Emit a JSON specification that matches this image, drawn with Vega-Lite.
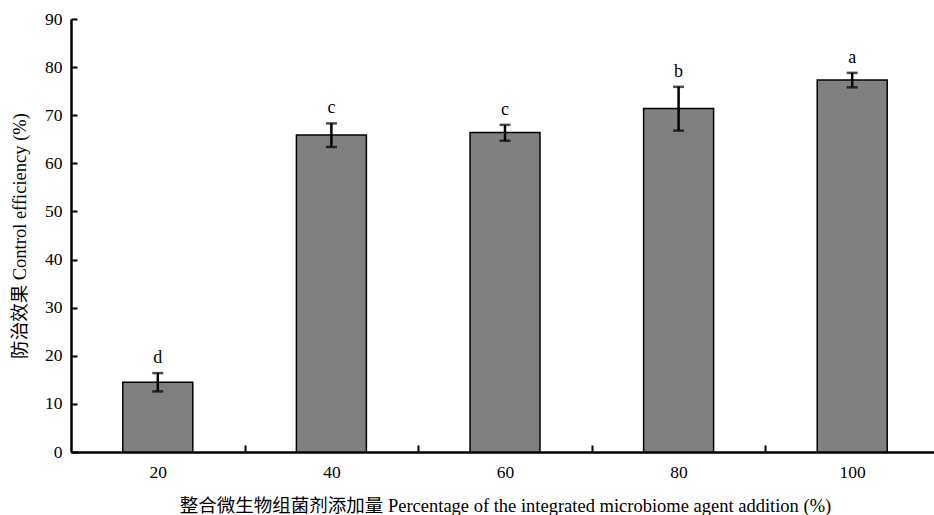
{
  "$schema": "https://vega.github.io/schema/vega-lite/v6.json",
  "width": 868,
  "height": 433,
  "autosize": "none",
  "padding": {"left": 71, "top": 19, "right": 0, "bottom": 63},
  "background": "white",
  "config": {
    "view": {"stroke": null},
    "font": "'Liberation Serif', 'Noto Sans CJK SC'",
    "axis": {
      "labelFont": "'Liberation Serif'",
      "labelFontSize": 17.5,
      "labelColor": "black",
      "titleFont": "'Liberation Serif', 'Noto Sans CJK SC'",
      "titleFontSize": 18.5,
      "titleFontWeight": "normal",
      "titleColor": "black",
      "domainColor": "black",
      "domainWidth": 2.5,
      "tickColor": "black",
      "tickWidth": 2,
      "grid": false
    }
  },
  "data": {
    "values": [
      {"pct": "20", "mean": 14.5, "lower": 12.6, "upper": 16.4, "letter": "d"},
      {"pct": "40", "mean": 65.9, "lower": 63.4, "upper": 68.3, "letter": "c"},
      {"pct": "60", "mean": 66.4, "lower": 64.7, "upper": 68.0, "letter": "c"},
      {"pct": "80", "mean": 71.4, "lower": 66.8, "upper": 75.9, "letter": "b"},
      {"pct": "100", "mean": 77.3, "lower": 75.8, "upper": 78.8, "letter": "a"}
    ]
  },
  "encoding": {
    "x": {
      "field": "pct",
      "type": "nominal",
      "sort": null,
      "scale": {"paddingInner": 0.597, "paddingOuter": 0.2985},
      "axis": {
        "title": "整合微生物组菌剂添加量 Percentage of the integrated microbiome agent addition (%)",
        "labelAngle": 0,
        "tickBand": "center",
        "tickOffset": 86.8,
        "labelOffset": -86.8,
        "tickSize": -7,
        "labelPadding": 18,
        "titleBaseline": "alphabetic",
        "titleY": 59
      }
    }
  },
  "layer": [
    {
      "mark": {"type": "bar", "fill": "#808080", "stroke": "black", "strokeWidth": 1.5},
      "encoding": {
        "y": {
          "field": "mean",
          "type": "quantitative",
          "scale": {"domain": [0, 90], "nice": false},
          "axis": {
            "title": "防治效果 Control efficiency (%)",
            "values": [0, 10, 20, 30, 40, 50, 60, 70, 80, 90],
            "tickSize": -6,
            "labelPadding": 15,
            "titleBaseline": "alphabetic",
            "titleX": -46
          }
        }
      }
    },
    {
      "mark": {"type": "rule", "color": "black", "strokeWidth": 2.5},
      "encoding": {
        "y": {"field": "lower", "type": "quantitative"},
        "y2": {"field": "upper"}
      }
    },
    {
      "mark": {"type": "tick", "color": "black", "size": 11, "thickness": 2.5},
      "encoding": {"y": {"field": "upper", "type": "quantitative"}}
    },
    {
      "mark": {"type": "tick", "color": "black", "size": 11, "thickness": 2.5},
      "encoding": {"y": {"field": "lower", "type": "quantitative"}}
    },
    {
      "mark": {"type": "text", "font": "'Liberation Serif'", "fontSize": 18, "baseline": "alphabetic", "dy": -10, "color": "black"},
      "encoding": {
        "y": {"field": "upper", "type": "quantitative"},
        "text": {"field": "letter"}
      }
    }
  ]
}
